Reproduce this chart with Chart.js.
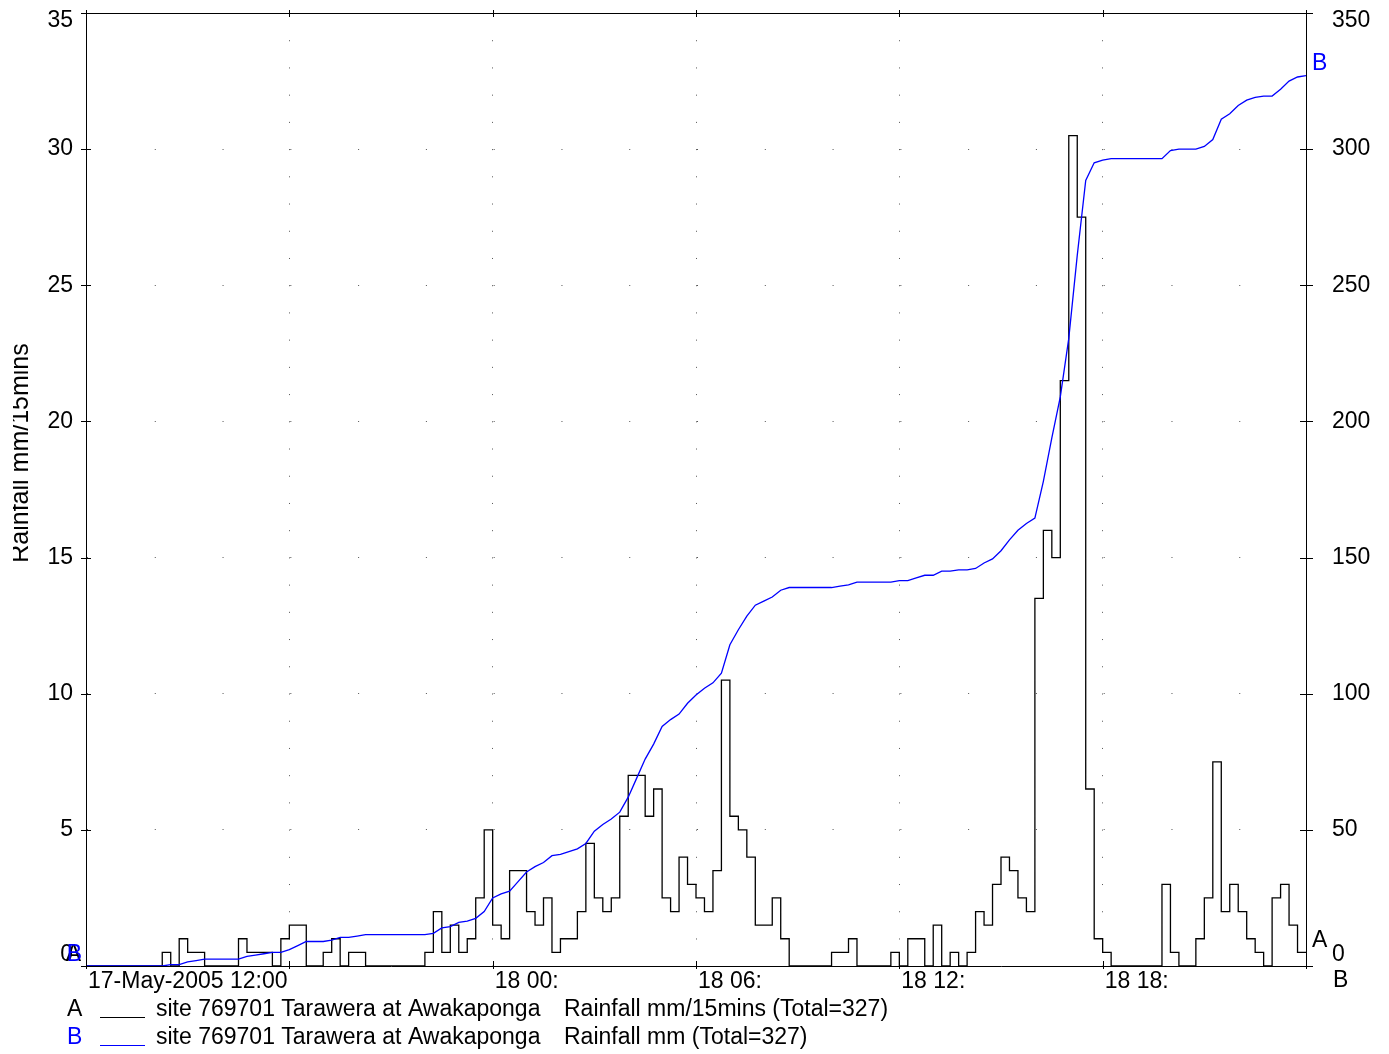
<!DOCTYPE html>
<html>
<head>
<meta charset="utf-8">
<script src="https://cdn.jsdelivr.net/npm/chart.js@4.4.1/dist/chart.umd.min.js"></script>
<style>
  html, body { margin: 0; padding: 0; background: #ffffff; }
  #wrap { width: 1389px; height: 1054px; }
</style>
</head>
<body>
<div id="wrap"><canvas id="rain" width="1389" height="1054"></canvas></div>
<script>
// 15-minute intervals from 17-May-2005 12:00 to 19-May-2005 00:00 (144 intervals)
const timeTickLabels = ['17-May-2005 12:00', '', '18 00:', '18 06:', '18 12:', '18 18:', ''];

// Series A: rainfall per 15 minutes (mm), one value per interval
const rainPer15 = [
  0, 0, 0, 0, 0, 0, 0, 0, 0, 0.5,
  0, 1, 0.5, 0.5, 0, 0, 0, 0, 1, 0.5,
  0.5, 0.5, 0, 1, 1.5, 1.5, 0, 0, 0.5, 1,
  0, 0.5, 0.5, 0, 0, 0, 0, 0, 0, 0,
  0.5, 2, 0.5, 1.5, 0.5, 1, 2.5, 5, 1.5, 1,
  3.5, 3.5, 2, 1.5, 2.5, 0.5, 1, 1, 2, 4.5,
  2.5, 2, 2.5, 5.5, 7, 7, 5.5, 6.5, 2.5, 2,
  4, 3, 2.5, 2, 3.5, 10.5, 5.5, 5, 4, 1.5,
  1.5, 2.5, 1, 0, 0, 0, 0, 0, 0.5, 0.5,
  1, 0, 0, 0, 0, 0.5, 0, 1, 1, 0,
  1.5, 0, 0.5, 0, 0.5, 2, 1.5, 3, 4, 3.5,
  2.5, 2, 13.5, 16, 15, 21.5, 30.5, 27.5, 6.5, 1,
  0.5, 0, 0, 0, 0, 0, 0, 3, 0.5, 0,
  0, 1, 2.5, 7.5, 2, 3, 2, 1, 0.5, 0,
  2.5, 3, 1.5, 0.5
];

// Series B: accumulated rainfall (mm) at each interval boundary (145 points)
const rainTotal = [
  0, 0, 0, 0, 0, 0, 0, 0, 0, 0,
  0.5, 0.5, 1.5, 2, 2.5, 2.5, 2.5, 2.5, 2.5, 3.5,
  4, 4.5, 5, 5, 6, 7.5, 9, 9, 9, 9.5,
  10.5, 10.5, 11, 11.5, 11.5, 11.5, 11.5, 11.5, 11.5, 11.5,
  11.5, 12, 14, 14.5, 16, 16.5, 17.5, 20, 25, 26.5,
  27.5, 31, 34.5, 36.5, 38, 40.5, 41, 42, 43, 45,
  49.5, 52, 54, 56.5, 62, 69, 76, 81.5, 88, 90.5,
  92.5, 96.5, 99.5, 102, 104, 107.5, 118, 123.5, 128.5, 132.5,
  134, 135.5, 138, 139, 139, 139, 139, 139, 139, 139.5,
  140, 141, 141, 141, 141, 141, 141.5, 141.5, 142.5, 143.5,
  143.5, 145, 145, 145.5, 145.5, 146, 148, 149.5, 152.5, 156.5,
  160, 162.5, 164.5, 178, 194, 209, 230.5, 261, 288.5, 295,
  296, 296.5, 296.5, 296.5, 296.5, 296.5, 296.5, 296.5, 299.5, 300,
  300, 300, 301, 303.5, 311, 313, 316, 318, 319, 319.5,
  319.5, 322, 325, 326.5, 327
];

const legendRows = [
  { key: 'A', color: '#000000', site: 'site 769701 Tarawera at Awakaponga', what: 'Rainfall mm/15mins (Total=327)' },
  { key: 'B', color: '#0000ff', site: 'site 769701 Tarawera at Awakaponga', what: 'Rainfall mm (Total=327)' }
];
const leftAxisTitle = 'Rainfall mm/15mins';

// step trace: each interval value held until the next boundary
const stepPoints = rainPer15.map((v, i) => ({ x: i, y: v }));
stepPoints.push({ x: rainPer15.length, y: rainPer15[rainPer15.length - 1] });
const totalPoints = rainTotal.map((v, i) => ({ x: i, y: v }));

const FONT = '23px "Liberation Sans", Arial, sans-serif';
const BLUE = '#0000ff';

const decorations = {
  id: 'decorations',
  afterDraw(chart) {
    const ctx = chart.ctx;
    const ca = chart.chartArea;
    const xs = chart.scales.x, yl = chart.scales.y, yr = chart.scales.y2;
    ctx.save();
    ctx.strokeStyle = '#000';
    ctx.lineWidth = 1;

    // top frame line
    ctx.beginPath();
    ctx.moveTo(ca.left, Math.round(ca.top) + 0.5);
    ctx.lineTo(ca.right, Math.round(ca.top) + 0.5);
    ctx.stroke();

    // tick marks crossing the frame
    ctx.beginPath();
    xs.ticks.forEach(t => {
      const px = Math.round(xs.getPixelForValue(t.value)) + 0.5;
      ctx.moveTo(px, ca.bottom - 5); ctx.lineTo(px, ca.bottom + 3);
      ctx.moveTo(px, ca.top - 3); ctx.lineTo(px, ca.top + 4);
    });
    yl.ticks.forEach(t => {
      const py = Math.round(yl.getPixelForValue(t.value)) + 0.5;
      ctx.moveTo(ca.left - 5, py); ctx.lineTo(ca.left + 5, py);
    });
    yr.ticks.forEach(t => {
      const py = Math.round(yr.getPixelForValue(t.value)) + 0.5;
      ctx.moveTo(ca.right - 6, py); ctx.lineTo(ca.right + 7, py);
    });
    ctx.stroke();

    // tick labels
    ctx.font = FONT;
    ctx.fillStyle = '#000';
    ctx.textBaseline = 'middle';
    const clampY = py => Math.min(Math.max(py, ca.top + 8), ca.bottom - 11);
    ctx.textAlign = 'right';
    yl.ticks.forEach(t => {
      ctx.fillText(String(t.value), 73, clampY(yl.getPixelForValue(t.value)));
    });
    ctx.textAlign = 'left';
    yr.ticks.forEach(t => {
      ctx.fillText(String(t.value), ca.right + 26, clampY(yr.getPixelForValue(t.value)));
    });
    xs.ticks.forEach(t => {
      const lbl = timeTickLabels[Math.round(t.value / 24)] || '';
      if (lbl) ctx.fillText(lbl, xs.getPixelForValue(t.value) + 2, ca.bottom + 16);
    });
    ctx.fillText('B', ca.right + 27, ca.bottom + 15);

    // series markers at both ends of each trace
    const n = rainPer15.length;
    ctx.textAlign = 'right';
    ctx.fillStyle = '#000';
    ctx.fillText('A', ca.left - 5, yl.getPixelForValue(rainPer15[0]) - 11);
    ctx.fillStyle = BLUE;
    ctx.fillText('B', ca.left - 4, yr.getPixelForValue(rainTotal[0]) - 11);
    ctx.textAlign = 'left';
    ctx.fillStyle = '#000';
    ctx.fillText('A', ca.right + 6, yl.getPixelForValue(rainPer15[n - 1]) - 12);
    ctx.fillStyle = BLUE;
    ctx.fillText('B', ca.right + 6, yr.getPixelForValue(rainTotal[rainTotal.length - 1]) - 12);

    // legend
    legendRows.forEach((row, i) => {
      const cy = 1010 + i * 28;
      ctx.fillStyle = row.color;
      ctx.textAlign = 'left';
      ctx.fillText(row.key, 67, cy);
      ctx.strokeStyle = row.color;
      ctx.beginPath();
      ctx.moveTo(100, cy + 7.5); ctx.lineTo(145, cy + 7.5);
      ctx.stroke();
      ctx.fillStyle = '#000';
      ctx.fillText(row.site, 156, cy);
      ctx.fillText(row.what, 564, cy);
    });

    // left axis title (rotated, trimmed at the canvas edge)
    ctx.save();
    ctx.beginPath();
    ctx.rect(13, 0, 200, chart.height);
    ctx.clip();
    ctx.translate(28, 453);
    ctx.rotate(-Math.PI / 2);
    ctx.font = '25px "Liberation Sans", Arial, sans-serif';
    ctx.textAlign = 'center';
    ctx.textBaseline = 'alphabetic';
    ctx.fillStyle = '#000';
    ctx.fillText(leftAxisTitle, 0, 0);
    ctx.restore();

    ctx.restore();
  }
};

new Chart(document.getElementById('rain'), {
  type: 'line',
  data: {
    datasets: [
      {
        label: 'B',
        data: totalPoints,
        yAxisID: 'y2',
        borderColor: BLUE,
        borderWidth: 1.3,
        pointRadius: 0,
        tension: 0,
        order: 0
      },
      {
        label: 'A',
        data: stepPoints,
        yAxisID: 'y',
        borderColor: '#000000',
        borderWidth: 1.3,
        pointRadius: 0,
        stepped: 'before',
        order: 1
      }
    ]
  },
  options: {
    responsive: false,
    animation: false,
    events: [],
    layout: { padding: { top: 13, left: 0, right: 0, bottom: 0 } },
    plugins: { legend: { display: false }, tooltip: { enabled: false } },
    scales: {
      x: {
        type: 'linear',
        position: 'bottom',
        min: 0,
        max: 144,
        ticks: { display: false, stepSize: 24 },
        grid: { color: '#555', lineWidth: 1, drawTicks: false },
        border: { display: true, color: '#000', width: 1, dash: [1, 26.22] },
        afterFit(scale) { scale.height = 88; }
      },
      y: {
        position: 'left',
        min: 0,
        max: 35,
        ticks: { display: false, stepSize: 5 },
        grid: { color: '#555', lineWidth: 1, drawTicks: false },
        border: { display: true, color: '#000', width: 1, dash: [1, 66.78] },
        afterFit(scale) { scale.width = 86; }
      },
      y2: {
        position: 'right',
        min: 0,
        max: 350,
        ticks: { display: false, stepSize: 50 },
        grid: { drawOnChartArea: false, drawTicks: false },
        border: { display: true, color: '#000', width: 1 },
        afterFit(scale) { scale.width = 83; }
      }
    }
  },
  plugins: [decorations]
});
</script>
</body>
</html>
